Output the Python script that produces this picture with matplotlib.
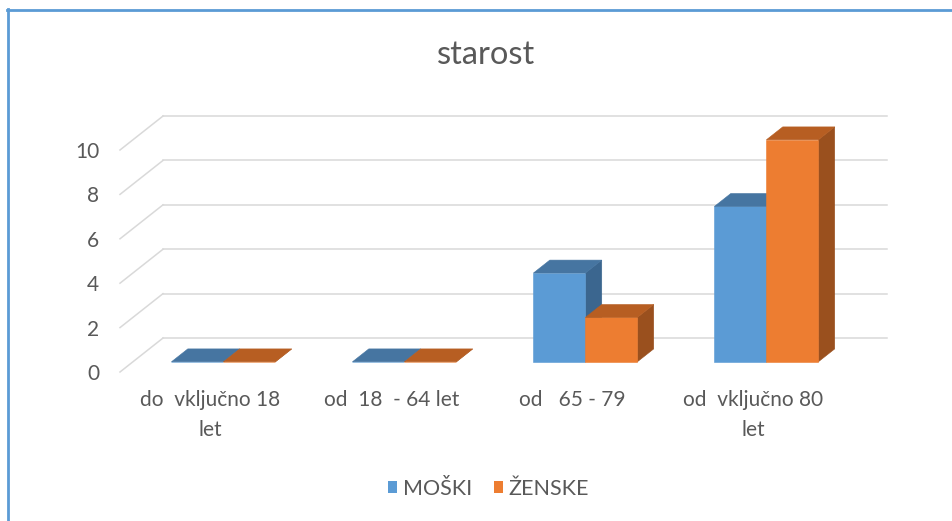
import matplotlib.pyplot as plt
from matplotlib.patches import Polygon, Patch
from matplotlib.lines import Line2D

categories = ["do  vključno 18\nlet", "od  18  - 64 let", "od   65 - 79", "od  vključno 80\nlet"]
series_names = ["MOŠKI", "ŽENSKE"]
moski = [0, 0, 4, 7]
zenske = [0, 0, 2, 10]
y_ticks = [0, 2, 4, 6, 8, 10]

# colours: front, top, side
blue = ("#5B9BD5", "#4675A1", "#3B668F")
orange = ("#ED7D31", "#B75E22", "#9A501E")
text_col = "#595959"
grid_col = "#D9D9D9"

plt.rcParams['font.family'] = ['Lato', 'DejaVu Sans']

# depth of the floor in data units (oblique projection like excel 3d column)
DX, DY = 0.2376, 1.53
D0, D1 = 0.30, 0.68   # bar depth range as fraction of floor depth
BW = 0.287            # bar width in category units


def proj(x, y, d):
    return (x + d * DX, y + d * DY)


def draw_bar(ax, x0, h, cols):
    x1 = x0 + BW
    front = [proj(x0, 0, D0), proj(x1, 0, D0), proj(x1, h, D0), proj(x0, h, D0)]
    top = [proj(x0, h, D0), proj(x1, h, D0), proj(x1, h, D1), proj(x0, h, D1)]
    side = [proj(x1, 0, D0), proj(x1, 0, D1), proj(x1, h, D1), proj(x1, h, D0)]
    for pts, c in [(side, cols[2]), (front, cols[0]), (top, cols[1])]:
        ax.add_patch(Polygon(pts, closed=True, facecolor=c, edgecolor=c,
                             lw=0.4, clip_on=False, zorder=3))


fig = plt.figure(figsize=(9.52, 5.21), dpi=100)
W, H = 952, 521
ax = fig.add_axes([120 / W, 149 / H, 724 / W, 222 / H])
ax.set_xlim(0, len(categories))
ax.set_ylim(0, 10)

# back wall + side gridlines
n = len(categories)
for v in y_ticks:
    bx, by = proj(0, v, 1)
    ax.plot([bx, n + DX], [by, by], color=grid_col, lw=1.1, clip_on=False, zorder=1)
    ax.plot([0, bx], [v, by], color=grid_col, lw=1.1, clip_on=False, zorder=1)

for i in range(n):
    c = i + 0.5
    draw_bar(ax, c - BW, moski[i], blue)
    draw_bar(ax, c, zenske[i], orange)

for s in ax.spines.values():
    s.set_visible(False)
ax.set_yticks(y_ticks)
ax.set_yticklabels([str(v) for v in y_ticks])
ax.set_xticks([i + 0.5 for i in range(n)])
ax.set_xticklabels(categories, linespacing=1.6)
ax.tick_params(axis='y', length=0, pad=15, labelsize=15, labelcolor=text_col)
ax.tick_params(axis='x', length=0, pad=13, labelsize=15, labelcolor=text_col)
ax.patch.set_visible(False)

fig.text(0.511, 0.894, "starost", ha='center', va='center', fontsize=23.5, color=text_col)

handles = [Patch(facecolor=blue[0]), Patch(facecolor=orange[0])]
fig.legend(handles, series_names, loc='center', bbox_to_anchor=(0.513, 0.062), ncol=2,
           frameon=False, fontsize=15.5, labelcolor=text_col, handlelength=0.45,
           handleheight=0.45, handletextpad=0.25, columnspacing=1.0)

# blue frame of the screenshot
fig.add_artist(Line2D([7 / W, 1], [1 - 10 / H, 1 - 10 / H], color="#5B9BD5", lw=2.0))
fig.add_artist(Line2D([8 / W, 8 / W], [0, 1 - 9 / H], color="#5B9BD5", lw=2.0))

fig.savefig("out.png", dpi=100)
